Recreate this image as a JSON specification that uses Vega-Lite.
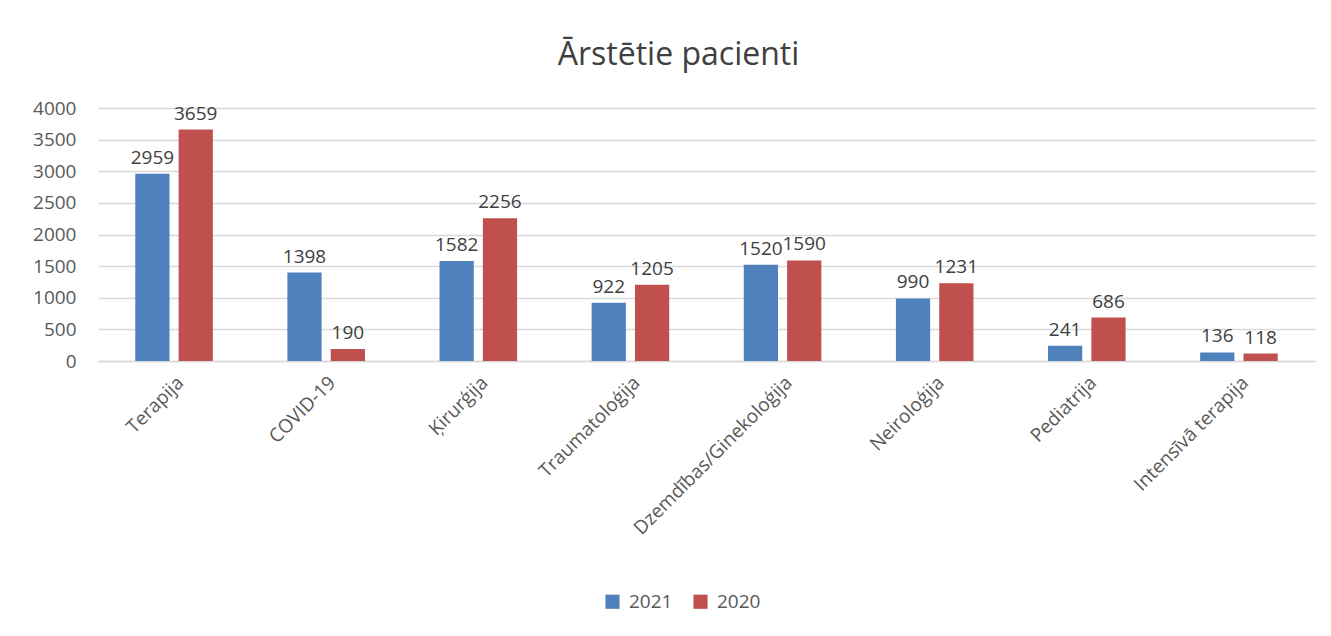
{
  "$schema": "https://vega.github.io/schema/vega-lite/v6.json",
  "autosize": {"type": "none"},
  "width": 1217,
  "height": 253,
  "padding": {"left": 98, "top": 108, "right": 16, "bottom": 275},
  "background": "white",
  "title": {"text": "Ārstētie pacienti", "fontSize": 32, "font": "Open Sans", "fontWeight": "normal", "color": "#404040", "offset": 27, "anchor": "middle", "dx": -28},
  "data": {"values": [
    {"kat": "Terapija", "gads": "2021", "v": 2959},
    {"kat": "Terapija", "gads": "2020", "v": 3659},
    {"kat": "COVID-19", "gads": "2021", "v": 1398},
    {"kat": "COVID-19", "gads": "2020", "v": 190},
    {"kat": "Ķirurģija", "gads": "2021", "v": 1582},
    {"kat": "Ķirurģija", "gads": "2020", "v": 2256},
    {"kat": "Traumatoloģija", "gads": "2021", "v": 922},
    {"kat": "Traumatoloģija", "gads": "2020", "v": 1205},
    {"kat": "Dzemdības/Ginekoloģija", "gads": "2021", "v": 1520},
    {"kat": "Dzemdības/Ginekoloģija", "gads": "2020", "v": 1590},
    {"kat": "Neiroloģija", "gads": "2021", "v": 990},
    {"kat": "Neiroloģija", "gads": "2020", "v": 1231},
    {"kat": "Pediatrija", "gads": "2021", "v": 241},
    {"kat": "Pediatrija", "gads": "2020", "v": 686},
    {"kat": "Intensīvā terapija", "gads": "2021", "v": 136},
    {"kat": "Intensīvā terapija", "gads": "2020", "v": 118}
  ]},
  "encoding": {
    "x": {"field": "kat", "type": "nominal", "sort": null,
      "scale": {"paddingInner": 0.49, "paddingOuter": 0.245},
      "axis": {"title": null, "labelAngle": -45, "labelFontSize": 19, "labelFont": "Open Sans", "labelColor": "#595959", "ticks": false, "domainColor": "#d9d9d9", "domainWidth": 1.5, "labelPadding": 12, "labelLimit": 400}},
    "xOffset": {"field": "gads", "type": "nominal", "sort": ["2021", "2020"], "scale": {"paddingInner": 0.21, "paddingOuter": 0}},
    "y": {"field": "v", "type": "quantitative",
      "scale": {"domain": [0, 4000], "nice": false},
      "axis": {"title": null, "values": [0, 500, 1000, 1500, 2000, 2500, 3000, 3500, 4000], "format": "d", "labelFontSize": 19, "labelFont": "Open Sans", "labelColor": "#595959", "domain": false, "ticks": false, "gridColor": "#d9d9d9", "gridWidth": 1.5, "labelPadding": 22}}
  },
  "layer": [
    {"mark": {"type": "bar"},
     "encoding": {"color": {"field": "gads", "type": "nominal", "sort": ["2021", "2020"],
       "scale": {"domain": ["2021", "2020"], "range": ["#4F81BD", "#C0504D"]},
       "legend": {"title": null, "orient": "none", "legendX": 505, "legendY": 484, "direction": "horizontal", "symbolType": "square", "symbolSize": 200, "symbolStrokeWidth": 0, "labelFontSize": 19, "labelFont": "Open Sans", "labelColor": "#595959", "columnPadding": 18, "labelOffset": 7}}}},
    {"mark": {"type": "text", "dy": -16, "fontSize": 19, "font": "Open Sans", "color": "#404040"},
     "encoding": {"text": {"field": "v", "type": "quantitative"}}}
  ],
  "config": {"view": {"stroke": null}}
}
